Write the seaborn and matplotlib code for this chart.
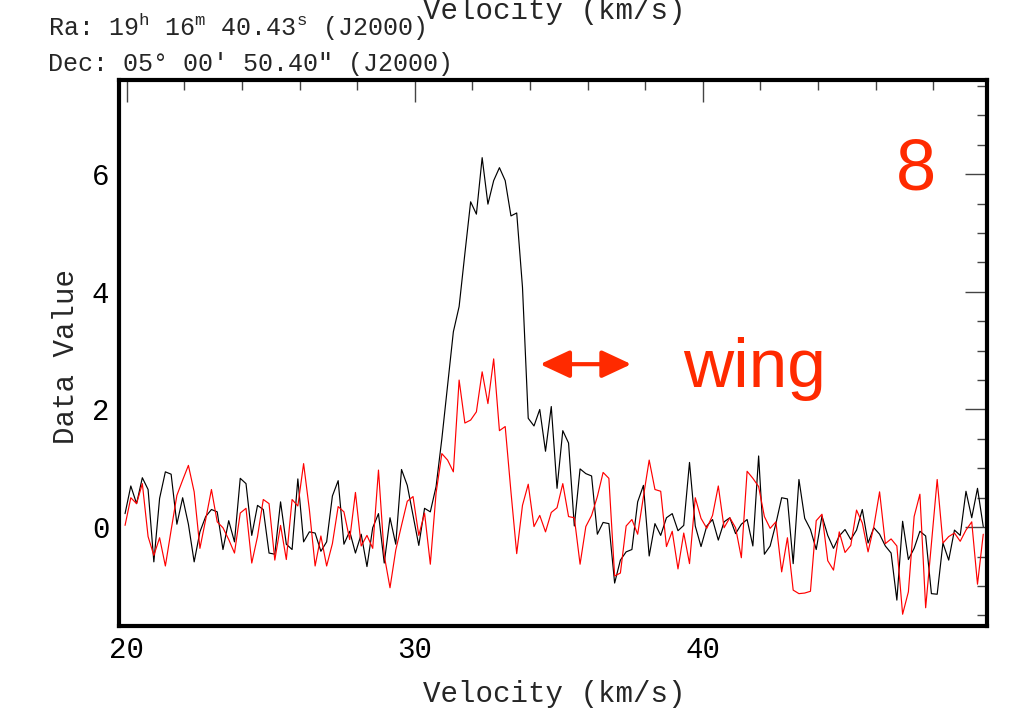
import numpy as np
import pandas as pd
import matplotlib
matplotlib.use("Agg")
import matplotlib.pyplot as plt
import seaborn as sns
from matplotlib.ticker import MultipleLocator

# ---- data ----
black = [0.23, 0.70, 0.40, 0.84, 0.64, -0.59, 0.49, 0.94, 0.90, 0.05,
         0.50, 0.05, -0.59, -0.08, 0.18, 0.30, 0.26, -0.38, 0.11, -0.25,
         0.83, 0.74, -0.14, 0.37, 0.30, -0.44, -0.46, 0.43, -0.29, -0.38,
         0.82, -0.25, -0.08, -0.10, -0.41, -0.25, 0.53, 0.79, -0.29, -0.07,
         -0.44, -0.12, -0.67, -0.01, 0.23, -0.61, 0.16, -0.29, 0.98, 0.71,
         0.20, -0.31, 0.32, 0.26, 0.69, 1.50, 2.41, 3.32, 3.75, 4.65,
         5.53, 5.32, 6.28, 5.49, 5.89, 6.11, 5.89, 5.29, 5.34, 4.08,
         1.85, 1.72, 2.00, 1.29, 2.05, 0.66, 1.64, 1.43, 0.02, 0.99,
         0.91, 0.87, -0.12, 0.08, 0.06, -0.95, -0.56, -0.42, -0.38, 0.43,
         0.71, -0.49, 0.06, -0.14, 0.16, 0.23, -0.06, 0.03, 1.10, 0.02,
         -0.33, 0.02, 0.13, -0.22, 0.09, 0.16, -0.11, 0.05, 0.13, -0.32,
         1.21, -0.46, -0.32, 0.06, 0.50, 0.48, -0.62, 0.81, 0.15, -0.04,
         -0.38, 0.19, -0.14, -0.36, -0.15, -0.04, -0.21, -0.05, 0.30, -0.27,
         -0.01, -0.12, -0.32, -0.44, -1.24, 0.10, -0.55, -0.36, -0.07, -0.15,
         -1.13, -1.14, -0.27, -0.56, -0.05, -0.14, 0.61, 0.16, 0.66, 0.01]

red = [0.03, 0.50, 0.40, 0.74, -0.16, -0.48, -0.18, -0.66, -0.05, 0.54,
       0.80, 1.05, 0.60, -0.36, 0.13, 0.64, 0.09, -0.01, -0.21, -0.44,
       0.24, 0.32, -0.61, -0.16, 0.47, 0.40, -0.56, 0.03, -0.55, 0.47,
       0.36, 1.08, 0.30, -0.66, -0.15, -0.66, -0.28, 0.35, 0.26, -0.21,
       0.59, -0.32, -0.14, -0.36, 0.97, -0.48, -1.03, -0.39, 0.03, 0.44,
       0.52, -0.14, 0.24, -0.63, 0.58, 1.25, 1.14, 0.94, 2.50, 1.77,
       1.82, 1.96, 2.64, 2.10, 2.86, 1.64, 1.71, 0.60, -0.45, 0.37,
       0.73, 0.01, 0.20, -0.08, 0.25, 0.33, 0.74, 0.18, 0.16, -0.63,
       0.01, 0.20, 0.52, 0.93, 0.83, -0.83, -0.78, 0.02, 0.13, -0.12,
       0.52, 1.14, 0.64, 0.61, -0.33, -0.07, -0.71, -0.10, -0.62, 0.50,
       0.15, -0.02, 0.20, 0.70, -0.01, 0.16, -0.01, -0.52, 0.95, 0.83,
       0.69, 0.18, -0.02, 0.09, -0.76, -0.18, -1.07, -1.13, -1.12, -1.09,
       0.11, 0.22, -0.57, -0.73, -0.08, -0.43, -0.31, 0.29, 0.07, -0.42,
       0.01, 0.60, -0.28, -0.20, -0.32, -1.48, -1.10, 0.18, 0.56, -1.37,
       -0.28, 0.81, -0.27, -0.16, -0.10, -0.24, -0.05, 0.09, -0.97, -0.12]

v_start = 19.94   # first channel velocity (km/s)
v_step = 0.2      # channel width (km/s)
velocity = v_start + v_step * np.arange(len(black))

ra_text = r"Ra: 19$^{\mathrm{h}}$ 16$^{\mathrm{m}}$ 40.43$^{\mathrm{s}}$ (J2000)"
dec_text = "Dec: 05\u00b0 00\u2032 50.40\u2033 (J2000)"
xlabel = "Velocity (km/s)"
ylabel = "Data Value"
panel_label = "8"
wing_label = "wing"

# ---- style ----
sns.set_theme(style="white")
plt.rcParams["font.family"] = ["Liberation Mono", "DejaVu Sans Mono", "DejaVu Serif"]
plt.rcParams["mathtext.fontset"] = "custom"
plt.rcParams["mathtext.rm"] = "Liberation Mono"
plt.rcParams["mathtext.it"] = "Liberation Mono"

accent = "#ff2a00"
W, H = 1011, 715

fig = plt.figure(figsize=(W / 100, H / 100), dpi=100)
fig.patch.set_facecolor("white")
ax = fig.add_axes([119 / W, 1 - 626 / H, (987 - 119) / W, (626 - 80) / H])
ax.set_facecolor("white")

n = len(black)
df = pd.DataFrame({
    "Velocity": np.concatenate([velocity, velocity]),
    "Value": np.concatenate([black, red]),
    "series": ["on"] * n + ["off"] * n,
})
sns.lineplot(data=df, x="Velocity", y="Value", hue="series",
             palette={"on": "black", "off": "red"}, linewidth=0.85,
             estimator=None, sort=False, legend=False, ax=ax)

ax.set_xlim(19.73, 49.87)
ax.set_ylim(-1.68, 7.60)
ax.set_xlabel("")
ax.set_ylabel("")

ax.xaxis.set_major_locator(MultipleLocator(10))
ax.xaxis.set_minor_locator(MultipleLocator(2))
ax.yaxis.set_major_locator(MultipleLocator(2))
ax.yaxis.set_minor_locator(MultipleLocator(0.5))

ax.tick_params(which="major", direction="in", length=16, width=1.0, color="#444444",
               top=True, right=True, labelsize=21, pad=7, labelcolor="black")
ax.tick_params(which="minor", direction="in", length=7, width=1.0, color="#444444",
               top=True, right=True)
for s in ax.spines.values():
    s.set_linewidth(3)
    s.set_color("black")

# axis labels and header text
fig.text(554 / W, 1 - 702 / H, xlabel, ha="center", va="baseline", fontsize=21)
fig.text(554 / W, 1 - 19 / H, xlabel, ha="center", va="baseline", fontsize=21)
fig.text(66 / W, 1 - 357 / H, ylabel, ha="center", va="center", rotation=90, fontsize=21)
fig.text(48 / W, 1 - 36 / H, ra_text, ha="left", va="baseline", fontsize=18)
fig.text(48 / W, 1 - 71 / H, dec_text, ha="left", va="baseline", fontsize=18,
         family=["Liberation Mono", "DejaVu Sans Mono", "DejaVu Serif"])

# annotations
fig.text(896 / W, 1 - 190 / H, panel_label, ha="left", va="baseline", fontsize=52,
         color=accent, family="Liberation Sans")
fig.text(683 / W, 1 - 387 / H, wing_label, ha="left", va="baseline", fontsize=50,
         color=accent, family="Liberation Sans")
ax.annotate("", xy=(37.52, 2.77), xytext=(34.35, 2.77),
            arrowprops=dict(arrowstyle="<|-|>,head_length=0.9,head_width=0.42",
                            mutation_scale=20, color=accent, lw=3,
                            shrinkA=0, shrinkB=0))

fig.savefig("out.png", dpi=100)
